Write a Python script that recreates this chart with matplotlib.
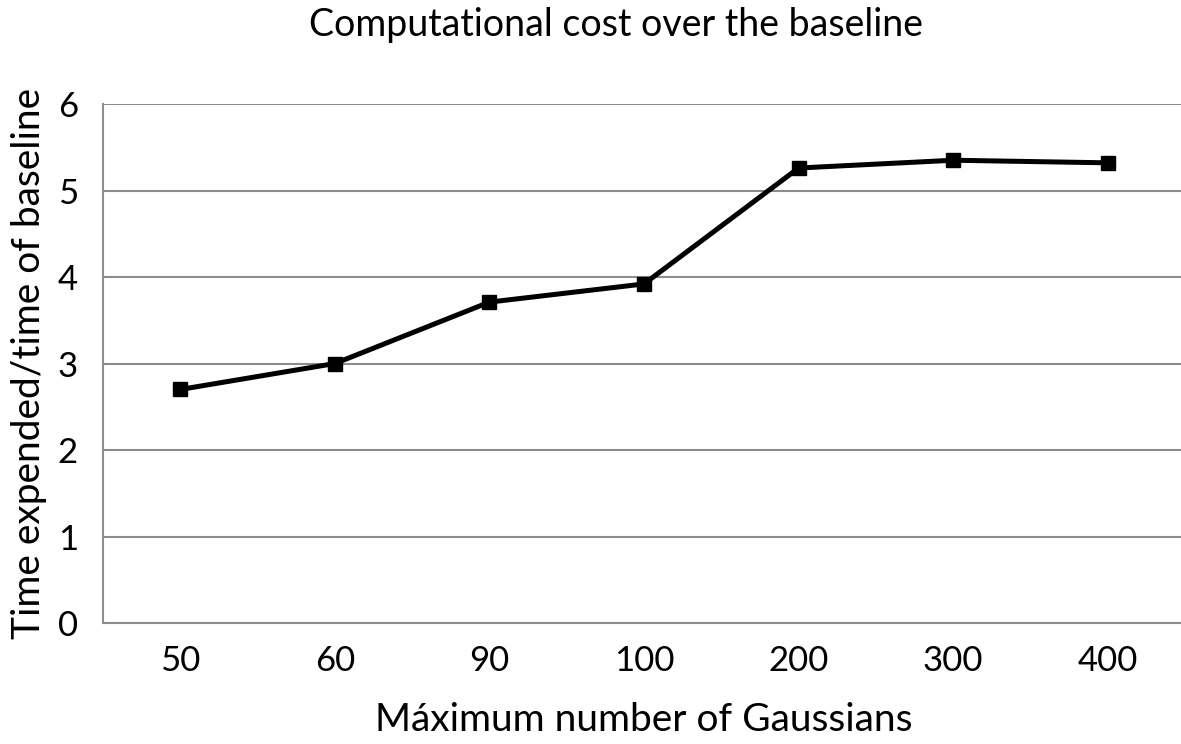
import matplotlib
matplotlib.use("Agg")
import matplotlib.pyplot as plt

categories = ["50", "60", "90", "100", "200", "300", "400"]
cost_ratio = [2.70, 3.00, 3.71, 3.92, 5.26, 5.35, 5.32]
y_ticks = [0, 1, 2, 3, 4, 5, 6]

plt.rcParams["font.family"] = ["Lato", "DejaVu Sans"]

fig = plt.figure(figsize=(11.81, 7.44), dpi=100)
ax = fig.add_axes([0.0872, 0.1626, 0.9162, 0.6976])

x = list(range(len(categories)))
ax.plot(x, cost_ratio, color="black", linewidth=3.6, marker="s", markersize=10, zorder=3)

ax.set_xlim(-0.5, len(categories) - 0.5)
ax.set_ylim(0, 6)
ax.set_xticks(x)
ax.set_xticklabels(categories)
ax.set_yticks(y_ticks)
ax.grid(axis="y", color="#8c8c8c", linewidth=1.5)
ax.set_axisbelow(True)
ax.tick_params(length=0, labelsize=25, pad=16)
ax.tick_params(axis="y", pad=18)

for side in ("top", "right"):
    ax.spines[side].set_visible(False)
for side in ("left", "bottom"):
    ax.spines[side].set_color("#8c8c8c")
    ax.spines[side].set_linewidth(1.5)

ax.set_xlabel("Máximum number of Gaussians", fontsize=28, labelpad=18)
ax.set_ylabel("Time expended/time of baseline", fontsize=28, labelpad=8)
fig.text(0.522, 0.99, "Computational cost over the baseline", fontsize=27,
         ha="center", va="top")

fig.savefig("out.png", dpi=100)
